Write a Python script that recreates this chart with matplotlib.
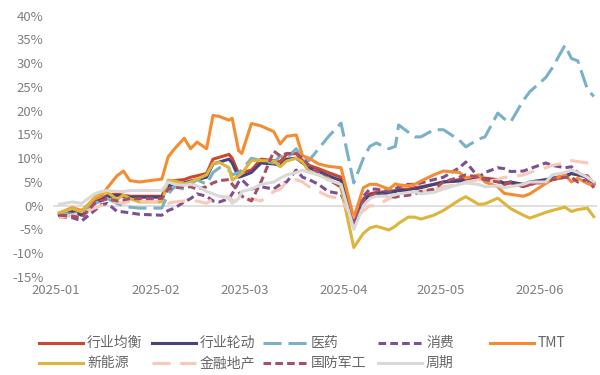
import pandas as pd
import matplotlib
matplotlib.use('Agg')
import matplotlib.pyplot as plt
import matplotlib.dates as mdates
from matplotlib.lines import Line2D

plt.rcParams['font.family'] = ['Noto Sans CJK SC', 'DejaVu Sans']
plt.rcParams['lines.scale_dashes'] = False

# 日期（2025）
dates = pd.to_datetime(['2025-' + d for d in [
    '01-02', '01-06', '01-09', '01-13', '01-15', '01-17', '01-20', '01-22', '01-24', '01-27',
    '02-03', '02-05', '02-07', '02-10', '02-12', '02-14', '02-17', '02-19', '02-21', '02-24',
    '02-25', '02-27', '02-28',
    '03-03', '03-06', '03-10', '03-12', '03-14', '03-17', '03-19', '03-21', '03-24', '03-27', '03-31',
    '04-04', '04-07', '04-09', '04-11', '04-15', '04-17', '04-18', '04-21', '04-23', '04-25', '04-29',
    '05-02', '05-07', '05-09', '05-13', '05-15', '05-19', '05-21', '05-23', '05-27', '05-29',
    '06-03', '06-05', '06-09', '06-11', '06-13', '06-16', '06-18']])

# 各组合累计收益（%）
balance = [-1.8, -1.0, -1.8, 0.8, 1.5, 2.2, 2.5, 2.2, 2.0, 2.0,
           2.0, 5.0, 5.3, 5.5, 6.0, 6.3, 6.8, 9.8, 10.2, 10.8, 10.0, 6.8, 7.0,
           7.5, 9.8, 9.5, 9.3, 10.8, 11.0, 9.5, 8.5, 7.8, 7.0, 6.0,
           -4.0, 1.5, 2.5, 2.8, 3.0, 3.2, 3.5, 3.5, 3.8, 4.0, 4.5,
           5.0, 5.5, 5.8, 6.0, 5.8, 5.5, 4.5, 4.8, 4.0, 4.5,
           5.2, 5.5, 6.0, 6.8, 6.5, 6.3, 4.5]
rotation = [-2.0, -1.2, -2.0, 0.5, 1.2, 1.8, 2.2, 2.0, 1.8, 1.8,
            1.8, 4.2, 4.5, 4.8, 5.2, 5.5, 6.0, 8.8, 9.2, 9.8, 9.0, 6.0, 6.2,
            7.0, 9.0, 8.8, 8.5, 9.8, 10.0, 9.0, 8.0, 7.2, 6.3, 5.3,
            -4.5, 1.0, 2.2, 2.5, 2.8, 3.0, 3.2, 3.2, 3.5, 3.8, 4.5,
            5.0, 5.2, 5.5, 5.8, 5.5, 5.2, 4.8, 5.0, 4.5, 5.0,
            5.5, 5.8, 6.3, 6.8, 6.5, 6.0, 4.8]
pharma = [-1.5, -1.8, -1.5, 0.5, 1.0, 1.5, 0.5, 0.0, -0.3, -0.5,
          -0.5, 2.5, 4.0, 3.5, 4.5, 5.5, 4.5, 7.0, 8.0, 7.5, 6.5, 7.0, 7.5,
          10.0, 9.5, 9.0, 10.5, 10.0, 12.0, 9.8, 9.5, 12.0, 14.5, 17.4,
          4.8, 10.0, 12.5, 13.2, 12.0, 12.5, 17.0, 15.5, 14.5, 14.5, 16.0,
          16.0, 13.8, 12.4, 14.0, 14.5, 19.5, 18.3, 17.6, 22.2, 24.0,
          27.0, 29.0, 33.8, 31.0, 30.5, 24.5, 23.0]
consumer = [-2.3, -2.5, -3.2, -1.0, 0.2, 0.5, -1.2, -1.3, -1.5, -1.8,
            -2.0, -1.0, -0.5, 0.8, 1.5, 2.5, 2.0, 1.0, 0.8, 1.5, 2.5, 5.0, 5.5,
            3.5, 4.0, 3.5, 4.5, 5.0, 7.5, 6.0, 5.5, 4.5, 3.0, 2.5,
            -3.5, 2.0, 3.5, 3.5, 3.0, 3.5, 4.0, 4.5, 4.5, 4.8, 5.5,
            6.0, 8.0, 9.2, 6.0, 7.0, 8.0, 7.8, 7.2, 7.3, 7.8,
            9.0, 8.5, 8.0, 8.2, 7.0, 5.5, 4.2]
tmt = [-1.5, -0.4, -1.0, 1.5, 2.0, 3.8, 6.3, 7.3, 5.3, 5.0,
       5.6, 10.3, 12.0, 14.2, 12.0, 13.4, 12.0, 19.0, 18.8, 18.0, 18.4, 11.6, 11.0,
       17.3, 16.8, 15.6, 13.0, 14.6, 14.9, 10.5, 10.0, 8.8, 8.3, 8.0,
       -2.5, 3.8, 4.5, 4.5, 3.5, 4.6, 4.4, 4.2, 4.5, 5.2, 6.5,
       7.3, 7.0, 5.8, 6.5, 5.0, 4.0, 2.6, 2.4, 2.0, 2.5,
       4.7, 5.5, 6.5, 5.0, 5.8, 4.7, 4.2]
new_energy = [-1.5, -0.6, -1.3, 1.8, 2.6, 2.9, 1.3, 2.3, 1.5, 0.8,
              0.8, 5.4, 5.2, 4.6, 5.0, 5.6, 6.5, 8.9, 9.1, 8.0, 5.4, 6.3, 6.8,
              9.5, 9.5, 9.4, 8.2, 9.4, 10.0, 9.2, 7.2, 6.5, 5.8, 3.8,
              -8.8, -5.8, -4.7, -4.3, -5.1, -4.3, -3.7, -2.4, -2.4, -2.8, -2.0,
              -1.0, 1.2, 1.9, 0.3, 0.4, 1.6, 0.5, -0.6, -2.0, -2.6,
              -1.4, -1.0, -0.3, -1.2, -0.8, -0.5, -2.3]
finance = [-2.5, -2.0, -1.5, -0.5, 0.0, 0.5, 0.8, 0.5, 1.0, 1.0,
           0.8, 0.5, 0.8, 1.0, 0.8, 1.0, 0.5, 1.5, 2.0, 1.8, 1.2, 0.8, 1.0,
           1.5, 1.0, 3.0, 3.5, 5.0, 5.5, 5.0, 4.0, 3.0, 2.0, 1.5,
           -3.0, -1.0, 0.0, 0.0, 1.5, 2.0, 2.2, 2.5, 3.0, 3.0, 3.5,
           4.0, 4.5, 5.0, 5.5, 5.0, 5.5, 6.0, 6.0, 6.5, 7.0,
           8.0, 8.5, 9.0, 9.5, 9.3, 9.0, 9.0]
defense = [-2.0, -2.2, -2.5, 0.5, 1.0, 1.5, 1.0, 1.2, 1.5, 1.5,
           1.5, 3.5, 3.8, 4.0, 4.0, 3.5, 4.0, 4.8, 5.3, 5.5, 4.5, 3.0, 2.0,
           1.0, 5.0, 11.5, 10.5, 11.0, 11.0, 10.0, 8.5, 7.0, 5.5, 4.0,
           -4.0, 1.0, 2.0, 2.5, 2.0, 1.8, 2.0, 2.2, 2.5, 3.0, 3.5,
           5.0, 6.0, 6.5, 6.0, 5.5, 5.0, 4.5, 5.0, 4.0, 4.5,
           5.0, 5.5, 6.0, 6.0, 5.0, 5.5, 3.8]
cyclical = [0.3, 0.8, 0.5, 2.5, 3.0, 3.2, 3.0, 3.0, 3.2, 3.2,
            3.2, 5.0, 4.5, 4.3, 4.5, 4.2, 3.0, 2.5, 2.0, 1.5, 0.5, 1.5, 3.0,
            3.5, 4.5, 5.0, 5.8, 6.5, 7.0, 7.5, 7.0, 6.5, 5.5, 4.5,
            -5.0, 0.0, 1.5, 2.0, 2.0, 2.3, 2.5, 2.8, 3.0, 2.5, 2.8,
            3.5, 4.5, 4.8, 4.5, 4.0, 4.2, 3.8, 4.0, 4.5, 5.0,
            5.0, 6.5, 7.0, 7.5, 7.0, 6.0, 5.0]

names = ['行业均衡', '行业轮动', '医药', '消费', 'TMT',
         '新能源', '金融地产', '国防军工', '周期']
values = [balance, rotation, pharma, consumer, tmt,
          new_energy, finance, defense, cyclical]
colors = ['#CD462D', '#46447A', '#7AB0C8', '#7D5092', '#F58C32',
          '#DDB43C', '#FAC8B8', '#A55064', '#D9D9D9']
dashes = [None, None, (13, 5), (5.5, 3), None,
          None, (13, 7), (5.5, 3), None]

W, H = 600, 375
fig = plt.figure(figsize=(6, 3.75), dpi=100)
ax = fig.add_axes([53 / W, (H - 277) / H, 544 / W, 261.3 / H])

ax.axhline(0, color='#D9D9D9', lw=1.2, zorder=1)
for name, v, c, d in zip(names, values, colors, dashes):
    line, = ax.plot(dates, v, color=c, lw=2.2, solid_joinstyle='round', zorder=2)
    if d:
        line.set_dashes(d)

ax.set_xlim(pd.Timestamp('2024-12-31'), pd.Timestamp('2025-06-19'))
ax.set_ylim(-15, 40)
ax.set_yticks(range(-15, 41, 5))
ax.set_yticklabels([f'{t}%' for t in range(-15, 41, 5)])
ax.set_xticks(pd.date_range('2025-01-01', '2025-06-01', freq='MS'))
ax.xaxis.set_major_formatter(mdates.DateFormatter('%Y-%m'))
ax.tick_params(axis='both', length=0, labelsize=9.5, labelcolor='#7F7F7F')
ax.tick_params(axis='y', pad=7)
ax.tick_params(axis='x', pad=5)
for s in ax.spines.values():
    s.set_visible(False)

# 图例（两行五列）
col_x = [39, 152, 263, 378, 490]
row_y = [343, 363]
for i, (name, c, d) in enumerate(zip(names, colors, dashes)):
    x0 = col_x[i % 5]
    y0 = row_y[i // 5]
    ln = Line2D([x0 / W, (x0 + 44) / W], [1 - y0 / H, 1 - y0 / H],
                transform=fig.transFigure, color=c, lw=2.2)
    if d:
        ln.set_dashes(d)
    fig.add_artist(ln)
    fig.text((x0 + 48) / W, 1 - y0 / H, name, fontsize=10,
             color='#666666', va='center', ha='left')

fig.savefig('out.png', dpi=100)
